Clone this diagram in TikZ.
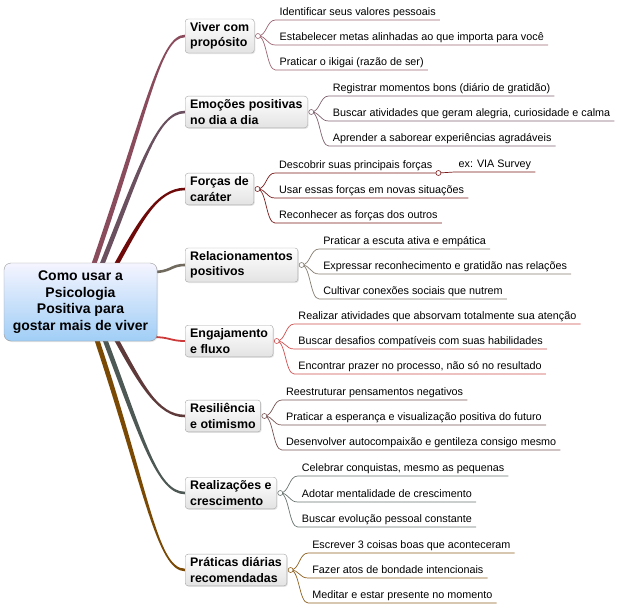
\documentclass[tikz,border=0pt]{standalone}
\usepackage{fontspec}
\setmainfont{Liberation Sans}
\usetikzlibrary{shadows,backgrounds}

\definecolor{br1}{HTML}{8A4B5C}\definecolor{lf1}{HTML}{9C6573}
\definecolor{br2}{HTML}{6B5060}\definecolor{lf2}{HTML}{806270}
\definecolor{br3}{HTML}{6E0A0A}\definecolor{lf3}{HTML}{7A1A1A}
\definecolor{br4}{HTML}{70695D}\definecolor{lf4}{HTML}{857D70}
\definecolor{br5}{HTML}{CC3A3A}\definecolor{lf5}{HTML}{D04E4E}
\definecolor{br6}{HTML}{5E3A3A}\definecolor{lf6}{HTML}{7A5555}
\definecolor{br7}{HTML}{4E5955}\definecolor{lf7}{HTML}{6A7470}
\definecolor{br8}{HTML}{7A4A05}\definecolor{lf8}{HTML}{8E6020}

\tikzstyle{rootbox}=[draw=gray!80, rounded corners=7pt, top color=blue!4!white,
  bottom color={rgb,255:red,160;green,206;blue,246}, minimum width=153pt, minimum height=78pt,
  align=center, font=\bfseries\fontsize{14}{16.5}\selectfont,
  drop shadow={opacity=.2,shadow xshift=1pt,shadow yshift=-1pt}]
\tikzstyle{topic}=[draw=gray!70, rounded corners=3pt, top color=white, bottom color=gray!22,
  anchor=west, align=left, inner xsep=5pt, inner ysep=3.5pt,
  font=\bfseries\fontsize{12.4}{15.5}\selectfont,
  drop shadow={opacity=.2,shadow xshift=1pt,shadow yshift=-1pt}]
\tikzstyle{leaf}=[anchor=south west, inner xsep=4pt, inner ysep=2pt, text height=8pt,
  text depth=2.5pt, font=\fontsize{10.8}{13}\selectfont]
\tikzstyle{leafline}=[line width=.7pt]
\tikzstyle{knob}=[fill=white, line width=.6pt]

% tapered main branch: color, root, topic, root control, topic control, up(1)/down(-1)
\newcommand{\branch}[6]{%
  \fill[#1] ([xshift=-2.5pt]#2) .. controls +(#4) and +(#5) .. ([yshift={(#6)*1.3pt}]#3.west)
    -- ([yshift={-(#6)*1.3pt}]#3.west) .. controls +(#5) and +(#4) .. ([xshift=2.5pt]#2) -- cycle;}

\begin{document}
\begin{tikzpicture}[x=1pt,y=-1pt]
    \useasboundingbox (0,0) rectangle (624,608);

    % Center
    \draw (80.5,302) node[rootbox] (root) {Como usar a\\Psicologia\\Positiva para\\gostar mais de viver};

    % Topics
    \draw (185,36) node[topic] (t1) {Viver com\\propósito};
    \draw (185,112) node[topic] (t2) {Emoções positivas\\no dia a dia};
    \draw (185,189) node[topic] (t3) {Forças de\\caráter};
    \draw (185,265) node[topic] (t4) {Relacionamentos\\positivos};
    \draw (185,341) node[topic] (t5) {Engajamento\\e fluxo};
    \draw (185,416) node[topic] (t6) {Resiliência\\e otimismo};
    \draw (185,493) node[topic] (t7) {Realizações e\\crescimento};
    \draw (185,570) node[topic] (t8) {Práticas diárias\\recomendadas};

    % Branch roots
    \coordinate (r1) at ([xshift=12.5pt,yshift=-4pt]root.north);
    \coordinate (r2) at ([xshift=20.5pt,yshift=-4pt]root.north);
    \coordinate (r3) at ([xshift=34.5pt,yshift=-4pt]root.north);
    \coordinate (r4) at ([xshift=-5pt,yshift=30pt]root.east);
    \coordinate (r5) at ([xshift=-5pt,yshift=-35pt]root.east);
    \coordinate (r6) at ([xshift=34.5pt,yshift=4pt]root.south);
    \coordinate (r7) at ([xshift=23.5pt,yshift=4pt]root.south);
    \coordinate (r8) at ([xshift=15.5pt,yshift=4pt]root.south);

    \begin{pgfonlayer}{background}
    \branch{br1}{r1}{t1}{55,-160}{-25,0}{1}
    \branch{br2}{r2}{t2}{40,-100}{-28,0}{1}
    \branch{br3}{r3}{t3}{25,-45}{-28,0}{1}
    \draw[br4,line width=2.6pt] (r4) .. controls +(20,0) and +(-15,0) .. (t4.west);
    \draw[br5,line width=1.8pt] (r5) .. controls +(18,0) and +(-15,0) .. (t5.west);
    \branch{br6}{r6}{t6}{25,45}{-28,0}{-1}
    \branch{br7}{r7}{t7}{38,100}{-28,0}{-1}
    \branch{br8}{r8}{t8}{50,150}{-28,0}{-1}
    \end{pgfonlayer}

    % Knobs
    \foreach \i in {1,...,8}
      \coordinate (k\i) at ([xshift=3.5pt]t\i.east);

    % Leaves
    \draw ([xshift=21pt,yshift=16pt]t1.east) node[leaf] (l1a) {Identificar seus valores pessoais};
    \draw ([xshift=21pt,yshift=-9pt]t1.east) node[leaf] (l1b) {Estabelecer metas alinhadas ao que importa para você};
    \draw ([xshift=21pt,yshift=-34pt]t1.east) node[leaf] (l1c) {Praticar o ikigai (razão de ser)};

    \draw ([xshift=21pt,yshift=16pt]t2.east) node[leaf] (l2a) {Registrar momentos bons (diário de gratidão)};
    \draw ([xshift=21pt,yshift=-9pt]t2.east) node[leaf] (l2b) {Buscar atividades que geram alegria, curiosidade e calma};
    \draw ([xshift=21pt,yshift=-34pt]t2.east) node[leaf] (l2c) {Aprender a saborear experiências agradáveis};

    \draw ([xshift=21pt,yshift=16pt]t3.east) node[leaf] (l3a) {Descobrir suas principais forças};
    \draw ([xshift=21pt,yshift=-9pt]t3.east) node[leaf] (l3b) {Usar essas forças em novas situações};
    \draw ([xshift=21pt,yshift=-34pt]t3.east) node[leaf] (l3c) {Reconhecer as forças dos outros};
    \coordinate (k3x) at ([xshift=2pt]l3a.south east);
    \draw ([xshift=16pt,yshift=1pt]k3x) node[leaf] (l3x) {ex: VIA Survey};

    \draw ([xshift=21pt,yshift=16pt]t4.east) node[leaf] (l4a) {Praticar a escuta ativa e empática};
    \draw ([xshift=21pt,yshift=-9pt]t4.east) node[leaf] (l4b) {Expressar reconhecimento e gratidão nas relações};
    \draw ([xshift=21pt,yshift=-34pt]t4.east) node[leaf] (l4c) {Cultivar conexões sociais que nutrem};

    \draw ([xshift=21pt,yshift=17pt]t5.east) node[leaf] (l5a) {Realizar atividades que absorvam totalmente sua atenção};
    \draw ([xshift=21pt,yshift=-8pt]t5.east) node[leaf] (l5b) {Buscar desafios compatíveis com suas habilidades};
    \draw ([xshift=21pt,yshift=-33pt]t5.east) node[leaf] (l5c) {Encontrar prazer no processo, não só no resultado};

    \draw ([xshift=21pt,yshift=16pt]t6.east) node[leaf] (l6a) {Reestruturar pensamentos negativos};
    \draw ([xshift=21pt,yshift=-9pt]t6.east) node[leaf] (l6b) {Praticar a esperança e visualização positiva do futuro};
    \draw ([xshift=21pt,yshift=-34pt]t6.east) node[leaf] (l6c) {Desenvolver autocompaixão e gentileza consigo mesmo};

    \draw ([xshift=21pt,yshift=17pt]t7.east) node[leaf] (l7a) {Celebrar conquistas, mesmo as pequenas};
    \draw ([xshift=21pt,yshift=-9pt]t7.east) node[leaf] (l7b) {Adotar mentalidade de crescimento};
    \draw ([xshift=21pt,yshift=-34pt]t7.east) node[leaf] (l7c) {Buscar evolução pessoal constante};

    \draw ([xshift=21pt,yshift=17pt]t8.east) node[leaf] (l8a) {Escrever 3 coisas boas que aconteceram};
    \draw ([xshift=21pt,yshift=-8pt]t8.east) node[leaf] (l8b) {Fazer atos de bondade intencionais};
    \draw ([xshift=21pt,yshift=-33pt]t8.east) node[leaf] (l8c) {Meditar e estar presente no momento};

    % Leaf connectors
    \foreach \i in {1,...,8}
      \foreach \j in {a,b,c}
        \draw[leafline,color=lf\i] (k\i) .. controls +(9,0) and +(-9,0) .. (l\i\j.south west) -- (l\i\j.south east);
    \draw[leafline,color=lf3] (k3x) .. controls +(8,0) and +(-8,0) .. (l3x.south west) -- (l3x.south east);

    \foreach \i in {1,...,8}
      \draw[knob,draw=lf\i] (k\i) circle (2.5pt);
    \draw[knob,draw=lf3] (k3x) circle (2.5pt);

\end{tikzpicture}
\end{document}
